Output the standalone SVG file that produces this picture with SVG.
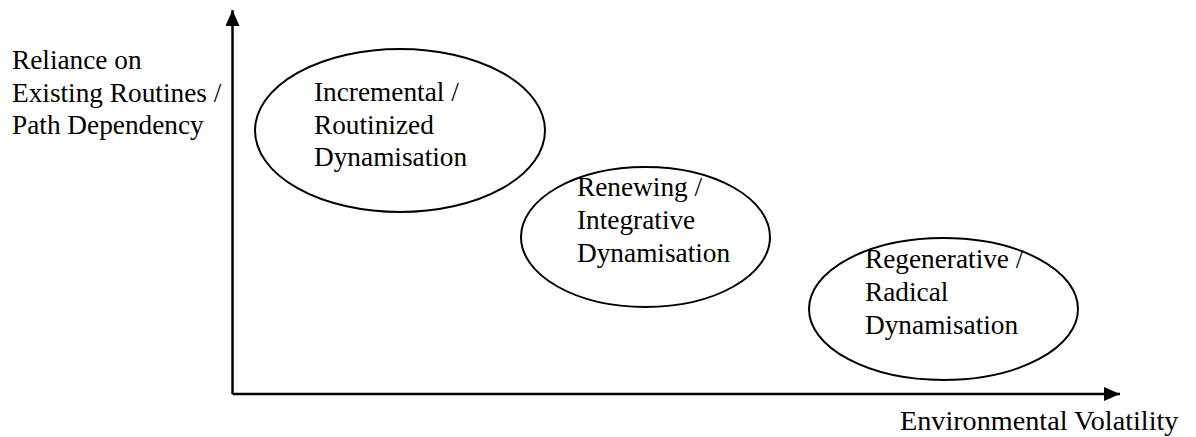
<svg xmlns="http://www.w3.org/2000/svg" width="1196" height="437" viewBox="0 0 1196 437">
  <style>
    .node ellipse { fill: none; stroke: #000; stroke-width: 2; }
    .axis { stroke: #000; stroke-width: 2.5; fill: none; }
    .lbl { font-family: 'Liberation Serif', 'Times New Roman', Times, 'DejaVu Serif', serif; font-size: 27.3px; fill: #000; }
  </style>
  <defs>
    <marker id="arrow" viewBox="0 0 16 14" refX="16" refY="7" markerWidth="16" markerHeight="14" markerUnits="userSpaceOnUse" orient="auto">
      <path d="M0,0 L16,7 L0,14 Z" fill="#000"/>
    </marker>
  </defs>
  <rect width="1196" height="437" fill="#fff"/>

  <!-- axes -->
  <g id="connectors">
    <line class="axis" x1="232.5" y1="394" x2="232.5" y2="10" marker-end="url(#arrow)"/>
    <line class="axis" x1="232.5" y1="394" x2="1120" y2="394" marker-end="url(#arrow)"/>
  </g>

  <g class="lbl">
    <!-- axis labels -->
    <g id="y-label">
      <text x="12" y="69">Reliance on</text>
      <text x="12" y="101.5">Existing Routines /</text>
      <text x="12" y="134">Path Dependency</text>
    </g>
    <g id="x-label">
      <text x="900" y="430" font-size="28.2">Environmental Volatility</text>
    </g>

    <!-- dynamisation types -->
    <g id="incremental" class="node">
      <ellipse cx="400" cy="130.5" rx="145" ry="81.5"/>
      <text x="314" y="101">Incremental /</text>
      <text x="314" y="133.5">Routinized</text>
      <text x="314" y="166">Dynamisation</text>
    </g>
    <g id="renewing" class="node">
      <ellipse cx="645.5" cy="237" rx="124.5" ry="70"/>
      <text x="577" y="196">Renewing /</text>
      <text x="577" y="229">Integrative</text>
      <text x="577" y="262">Dynamisation</text>
    </g>
    <g id="regenerative" class="node">
      <ellipse cx="943.5" cy="309" rx="134.5" ry="71"/>
      <text x="865" y="267.5">Regenerative /</text>
      <text x="865" y="300.5">Radical</text>
      <text x="865" y="333.5">Dynamisation</text>
    </g>
  </g>
</svg>
